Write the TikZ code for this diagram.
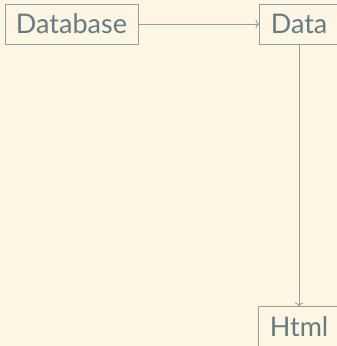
\documentclass[tikz,border=0pt]{standalone}
\usepackage{fontspec}
\setmainfont{Lato}
\usetikzlibrary{positioning,arrows.meta}
\definecolor{solbg}{HTML}{FDF6E3}
\definecolor{soltext}{HTML}{657B83}
\definecolor{solline}{HTML}{8FA0A2}
\begin{document}
\begin{tikzpicture}[-{To[length=4pt,width=9pt]} ,auto ,node distance =121pt and 262pt ,
semithick , draw=solline, color=solline,
box/.style ={ rectangle , draw=solline , text=soltext ,
font=\fontsize{27}{32}\selectfont , inner xsep=11pt , inner ysep=0pt ,
minimum height =40pt , line width=0.8pt}
]
\fill[solbg] (0,0) rectangle (337pt,-346pt);
\useasboundingbox (0,0) rectangle (337pt,-346pt);
\node[box] (db) at (71.5pt,-24pt) {Database};
\node[box] (data) [right = 121pt of db] {Data};
\node[box] (html) [below = 262pt of data] {Html};
\draw[line width=0.8pt] (db) -- (data);
\draw[line width=0.8pt] (data) -- (html);
\end{tikzpicture}
\end{document}
